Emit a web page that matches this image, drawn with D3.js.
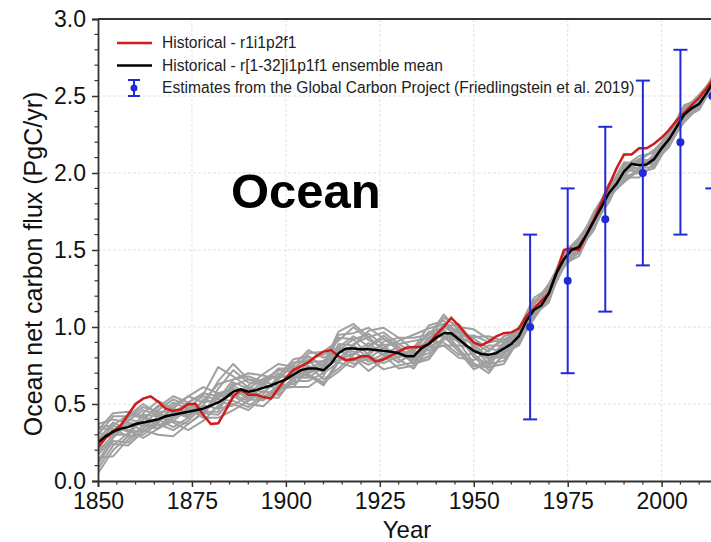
<!DOCTYPE html>
<html>
<head>
<meta charset="utf-8">
<script src="https://cdn.jsdelivr.net/npm/d3@7"></script>
<style>
  body { margin:0; background:#fff; }
  svg { display:block; font-family:'Liberation Sans', Arial, sans-serif; }
  .grid line { stroke:#e2e2e2; stroke-dasharray:3,2; }
</style>
</head>
<body>
<svg></svg>
<script>
const WIDTH = 711
const HEIGHT = 542

// model years (every 2 years) with ensemble mean and the r1i1p2f1 member
const years = d3.range(1850, 2015, 2)
const meanFlux = [
  0.25,0.29,0.32,0.34,0.35,0.37,0.38,0.39,0.40,0.42,0.43,0.44,0.45,0.46,0.47,0.49,
  0.51,0.54,0.58,0.595,0.58,0.59,0.605,0.62,0.64,0.66,0.69,0.72,0.73,0.73,0.72,0.76,
  0.83,0.86,0.86,0.855,0.855,0.85,0.845,0.84,0.83,0.81,0.81,0.86,0.89,0.93,0.96,0.96,
  0.92,0.88,0.845,0.825,0.82,0.83,0.86,0.89,0.94,1.04,1.11,1.14,1.22,1.35,1.44,1.50,
  1.52,1.60,1.69,1.78,1.87,1.93,2.01,2.06,2.05,2.055,2.09,2.16,2.22,2.30,2.38,2.42,
  2.45,2.52,2.60
]
const redFlux = [
  0.22,0.28,0.32,0.36,0.43,0.50,0.535,0.55,0.515,0.47,0.455,0.465,0.50,0.50,0.43,0.37,
  0.375,0.46,0.55,0.59,0.56,0.56,0.545,0.535,0.60,0.67,0.72,0.745,0.77,0.81,0.84,0.85,
  0.81,0.785,0.79,0.81,0.81,0.775,0.79,0.815,0.84,0.865,0.87,0.87,0.89,0.95,1.00,1.06,
  1.01,0.95,0.90,0.88,0.905,0.94,0.96,0.965,0.99,1.07,1.12,1.17,1.22,1.35,1.50,1.51,
  1.50,1.60,1.70,1.81,1.92,2.03,2.12,2.12,2.16,2.16,2.19,2.23,2.28,2.34,2.39,2.44,
  2.49,2.55,2.62
]

// other ensemble members, as anomalies from the mean (hundredths), every 4 years
const memberYears = d3.range(1850, 2015, 4)
const memberAnoms = [
  [12,8,3,-2,6,10,4,-5,9,14,6,2,-4,3,10,12,8,14,6,2,-3,4,8,2,-6,-10,-8,2,4,-2,5,3,-3,2,6,1,-4,3,5,-2,1,4],
  [-20,-12,-6,-8,-3,-10,-6,2,-4,-9,-2,5,8,2,-5,-9,-4,3,8,12,6,2,-4,-8,-12,-6,3,6,2,-5,-3,4,6,2,-2,-7,-3,2,-1,3,6,2],
  [5,10,7,12,4,-2,6,9,23,10,3,-3,2,8,5,-2,-6,2,12,15,10,12,6,4,2,-4,-10,-4,3,6,2,-4,1,-5,-3,4,2,-2,-4,1,-3,-1],
  [-8,-4,2,-5,-10,-14,-8,-2,4,-3,-8,-12,-6,-2,4,6,-2,-10,-6,2,8,14,10,6,2,4,-2,-6,-4,3,6,2,-4,3,6,2,-5,-6,-2,4,2,-3],
  [10,4,-3,2,9,4,10,14,6,-2,4,9,12,5,-3,2,10,6,-4,-8,-2,5,12,8,4,9,12,5,-2,-4,1,5,-2,-6,-1,3,6,4,-2,-3,2,5],
  [-14,-6,-10,-4,2,-5,-12,-8,-2,6,2,-6,-2,-8,-12,-4,6,2,-6,-12,-8,-4,-2,-8,-4,2,-6,-8,-3,2,-2,-5,-3,4,2,-4,-8,-3,2,-2,-4,-2],
  [3,-3,6,10,5,2,-4,5,12,8,10,4,-2,-6,-2,4,12,10,14,8,2,-5,-10,-4,6,8,4,-2,5,8,3,-2,2,6,3,-1,3,6,3,2,4,1],
  [-4,2,-2,-10,-6,2,5,-3,-8,-4,2,6,4,10,8,2,-4,-8,-4,6,10,4,2,10,8,2,-3,4,6,2,-5,-2,4,2,-4,-2,2,-2,-5,1,3,4],
  [-10,-16,-8,-2,-6,-4,2,-6,-10,-12,-6,-2,-8,-4,2,-6,-10,-4,2,-3,-10,-6,4,2,-2,-8,-12,-3,-6,-4,2,-3,-6,-2,2,-5,-3,1,-3,-5,-2,-4],
  [8,12,10,4,-2,6,10,4,2,8,12,8,2,6,12,8,2,6,10,4,6,10,4,-2,2,10,8,6,2,4,6,1,-4,-3,2,5,2,-4,2,4,-1,2],
  [0,4,8,3,-4,-2,3,8,2,-6,-10,-4,4,-2,-6,2,4,-2,-8,-2,4,-2,-6,4,10,5,2,8,3,-3,-6,3,5,4,-2,-3,4,5,2,-3,0,3],
  [-17,-9,-4,5,2,8,2,-4,5,2,-4,3,9,4,-4,-10,-6,-12,-2,4,-4,-8,-2,6,5,-4,-6,4,-2,5,3,-4,-2,3,5,1,-2,3,6,3,-2,-3],
  [-6,-2,4,8,3,-4,-8,-3,6,2,-5,-8,-3,4,8,3,-5,-3,4,-2,-6,3,7,-2,-8,-12,-5,3,-3,-6,-2,3,-1,-4,3,6,1,-3,2,5,2,-2],
  [6,-2,-5,2,8,12,6,-2,-6,4,8,2,6,-4,-8,-2,4,8,2,10,4,-2,5,12,6,4,-2,-4,5,2,-3,2,5,-2,-6,2,4,-1,-4,2,4,1],
  [-12,-4,5,0,-6,-2,6,10,4,-2,-6,2,-4,-8,0,6,2,-6,-10,-4,2,-4,-8,-2,-6,-10,-4,-2,-4,-1,4,-2,-4,-3,1,-3,-5,2,4,-1,-3,-2],
  [2,6,-2,-6,-2,4,-2,2,-4,4,-2,-8,-4,2,6,10,4,-4,2,8,4,-4,2,-6,-10,-2,6,2,-5,-2,3,6,3,-1,-5,-2,3,-2,-5,-3,1,-1],
  [9,2,-6,6,12,4,-3,2,14,18,8,4,8,2,-2,4,14,16,8,0,-6,2,-2,-4,8,14,10,4,1,5,-2,-4,3,5,1,4,-2,1,4,6,3,2],
  [-3,-8,-12,-6,0,-8,-4,6,0,-8,-12,-6,-10,-2,-4,-8,-12,-6,-14,-6,0,-4,-10,-4,0,-2,-8,-10,-2,-3,-4,0,3,-2,-3,-6,-2,-5,-2,2,-1,-2]
]

// Global Carbon Project decadal estimates
const gcpYears = [1965, 1975, 1985, 1995, 2005, 2013.5]
const gcpFlux = [1.0, 1.3, 1.7, 2.0, 2.2, 2.5]
const gcpErr = [0.6, 0.6, 0.6, 0.6, 0.6, 0.6]

const xTicks = [1850, 1875, 1900, 1925, 1950, 1975, 2000]
const yTicks = [0, 0.5, 1.0, 1.5, 2.0, 2.5, 3.0]
const legendLabels = [
  'Historical - r1i1p2f1',
  'Historical - r[1-32]i1p1f1 ensemble mean',
  'Estimates from the Global Carbon Project (Friedlingstein et al. 2019)'
]

const M = { left:98, top:19, bottom:481, right:718 }

const svg = d3.select('svg')
  .attr('width', WIDTH)
  .attr('height', HEIGHT)

const x = d3.scaleLinear().domain([1850, 2015]).range([M.left, M.right])
const y = d3.scaleLinear().domain([0, 3]).range([M.bottom, M.top])

svg.append('clipPath').attr('id','plot')
  .append('rect')
  .attr('x', M.left).attr('y', M.top)
  .attr('width', M.right - M.left).attr('height', M.bottom - M.top)

// grid
const grid = svg.append('g').attr('class','grid')
grid.selectAll('.gx').data(xTicks.slice(1)).enter().append('line')
  .attr('x1', d => x(d)).attr('x2', d => x(d))
  .attr('y1', M.top).attr('y2', M.bottom)
grid.selectAll('.gy').data(yTicks.slice(1, -1)).enter().append('line')
  .attr('x1', M.left).attr('x2', M.right)
  .attr('y1', d => y(d)).attr('y2', d => y(d))

const plot = svg.append('g').attr('clip-path','url(#plot)')

const meanByYear = new Map(years.map((yr,i) => [yr, meanFlux[i]]))
const line = d3.line().x(d => x(d[0])).y(d => y(d[1]))

plot.append('g')
  .selectAll('path')
  .data(memberAnoms)
  .enter().append('path')
  .attr('d', an => line(memberYears.map((yr,i) => [yr, meanByYear.get(yr) + an[i]/100])))
  .attr('fill','none')
  .attr('stroke','#a0a0a0')
  .attr('stroke-width',2)
  .attr('stroke-linejoin','round')

plot.append('path')
  .attr('d', line(years.map((yr,i) => [yr, redFlux[i]])))
  .attr('fill','none')
  .attr('stroke','#d11a1a')
  .attr('stroke-width',2.5)

plot.append('path')
  .attr('d', line(years.map((yr,i) => [yr, meanFlux[i]])))
  .attr('fill','none')
  .attr('stroke','#000')
  .attr('stroke-width',2.5)

// error bars
const BLUE = '#1f2bd6'
const bars = plot.append('g')
  .selectAll('g')
  .data(gcpYears.map((yr,i) => ({ yr:yr, v:gcpFlux[i], e:gcpErr[i] })))
  .enter().append('g')
  .attr('stroke', BLUE)
  .attr('stroke-width', 2)
bars.append('line')
  .attr('x1', d => x(d.yr)).attr('x2', d => x(d.yr))
  .attr('y1', d => y(d.v - d.e)).attr('y2', d => y(d.v + d.e))
bars.selectAll('.cap').data(d => [[d.yr, d.v - d.e], [d.yr, d.v + d.e]])
  .enter().append('line')
  .attr('x1', d => x(d[0]) - 7).attr('x2', d => x(d[0]) + 7)
  .attr('y1', d => y(d[1])).attr('y2', d => y(d[1]))
bars.append('circle')
  .attr('cx', d => x(d.yr)).attr('cy', d => y(d.v))
  .attr('r', 4).attr('fill', BLUE).attr('stroke','none')

// axes
const xAxis = svg.append('g')
  .attr('transform', `translate(0,${M.bottom})`)
  .call(d3.axisBottom(x).tickValues(xTicks).tickFormat(d3.format('d')).tickSize(6).tickPadding(6))
xAxis.selectAll('.tick line').attr('stroke','#333').attr('stroke-width',1.5)
xAxis.append('g').selectAll('line')
  .data(d3.range(1855, 2015, 5).filter(d => d % 25))
  .enter().append('line')
  .attr('x1', d => x(d)).attr('x2', d => x(d))
  .attr('y1', 0).attr('y2', 3.5)
  .attr('stroke','#333').attr('stroke-width',1.2)

const yAxis = svg.append('g')
  .attr('transform', `translate(${M.left},0)`)
  .call(d3.axisLeft(y).tickValues(yTicks).tickFormat(d3.format('.1f')).tickSize(6).tickPadding(6))
yAxis.selectAll('.tick line').attr('stroke','#333').attr('stroke-width',1.5)
yAxis.append('g').selectAll('line')
  .data(d3.range(1, 30).filter(d => d % 5).map(d => d / 10))
  .enter().append('line')
  .attr('x1', 0).attr('x2', -3.5)
  .attr('y1', d => y(d)).attr('y2', d => y(d))
  .attr('stroke','#333').attr('stroke-width',1.2)

svg.selectAll('.domain').attr('stroke','#333').attr('stroke-width',1.8)
svg.selectAll('.tick text')
  .attr('fill','#111')
  .style('font-size','23px')
  .style('font-family',"'Liberation Sans', Arial, sans-serif")

svg.append('line')
  .attr('x1', M.left).attr('x2', M.right)
  .attr('y1', M.top).attr('y2', M.top)
  .attr('stroke','#333').attr('stroke-width',1.8)

// labels
svg.append('text')
  .attr('transform', `translate(42,${(M.top + M.bottom)/2 + 14}) rotate(-90)`)
  .attr('text-anchor','middle')
  .style('font-size','25px')
  .attr('fill','#111')
  .text('Ocean net carbon flux (PgC/yr)')

svg.append('text')
  .attr('x', 407).attr('y', 538)
  .attr('text-anchor','middle')
  .style('font-size','24px')
  .attr('fill','#111')
  .text('Year')

svg.append('text')
  .attr('x', 231).attr('y', 208)
  .style('font-size','49px')
  .style('font-weight','bold')
  .text('Ocean')

// legend
const legend = svg.append('g')
const rows = legend.selectAll('g')
  .data(legendLabels)
  .enter().append('g')
  .attr('transform', (d,i) => `translate(0,${43 + i*22.5})`)
rows.append('text')
  .attr('x', 162).attr('y', 5)
  .style('font-size','15.6px')
  .attr('fill','#222')
  .text(d => d)
rows.filter((d,i) => i < 2).append('line')
  .attr('x1', 117).attr('x2', 152)
  .attr('stroke', (d,i) => i ? '#000' : '#d11a1a')
  .attr('stroke-width', 2.5)
const mk = rows.filter((d,i) => i == 2).append('g')
  .attr('stroke', BLUE).attr('stroke-width', 2)
mk.append('line').attr('x1',134).attr('x2',134).attr('y1',-8).attr('y2',8)
mk.append('line').attr('x1',128).attr('x2',140).attr('y1',-8).attr('y2',-8)
mk.append('line').attr('x1',128).attr('x2',140).attr('y1',8).attr('y2',8)
mk.append('circle').attr('cx',134).attr('cy',0).attr('r',3.5).attr('fill',BLUE).attr('stroke','none')
</script>
</body>
</html>
